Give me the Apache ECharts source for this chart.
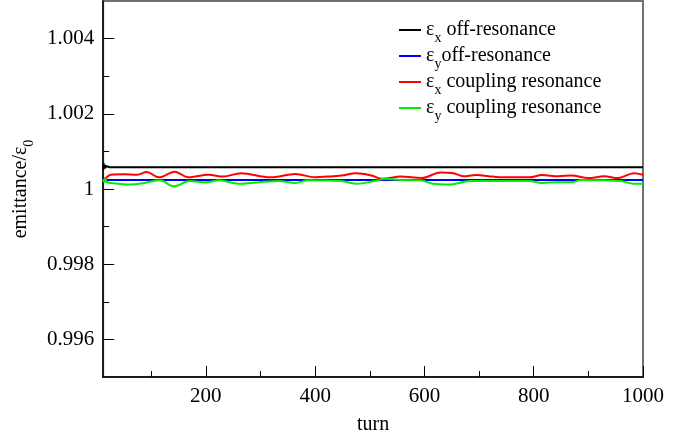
<!DOCTYPE html>
<html><head><meta charset="utf-8">
<script src="https://cdn.jsdelivr.net/npm/echarts@6/dist/echarts.min.js"></script>
<style>html,body{margin:0;padding:0;background:#fff}#c{width:693px;height:440px}</style>
</head><body><div id="c"></div>
<script>
// ---- data ----
const xMajorTicks = [200, 400, 600, 800, 1000];
const xMinorTicks = [100, 300, 500, 700, 900];
const yMajorTicks = [0.996, 0.998, 1.000, 1.002, 1.004];
const yMinorTicks = [0.997, 0.999, 1.001, 1.003];

const seriesNames = ['ex_off', 'ey_off', 'ex_coup', 'ey_coup'];
const seriesColors = ['#000000', '#0000ff', '#ff0000', '#00ee00'];

const blackTurns = [12, 13, 14, 15, 16, 17, 18, 20, 24, 1000];
const blackVals  = [1.00050, 1.00068, 1.00054, 1.00064, 1.00055, 1.00061, 1.00057, 1.00059, 1.00058, 1.00058];

const blueTurns = [12, 13, 15, 17, 20, 1000];
const blueVals  = [1.00020, 1.00030, 1.00022, 1.00026, 1.00024, 1.00024];

const redTurns = [12, 15, 20, 26, 50, 74, 92, 114, 143, 168, 205, 232, 264, 318, 364, 400, 423, 448, 475, 503, 523, 557, 595, 629, 653, 671, 694, 725, 743, 792, 815, 846, 869, 900, 929, 954, 983, 1000];
const redVals  = [1.00024, 1.00026, 1.00033, 1.00038, 1.00039, 1.00038, 1.00045, 1.00031, 1.00046, 1.00031, 1.00038, 1.00033, 1.00042, 1.00031, 1.00040, 1.00031, 1.00033, 1.00036, 1.00042, 1.00036, 1.00027, 1.00033, 1.00029, 1.00044, 1.00042, 1.00034, 1.00037, 1.00033, 1.00031, 1.00031, 1.00037, 1.00034, 1.00036, 1.00029, 1.00034, 1.00029, 1.00042, 1.00038];

const greenTurns = [12, 14, 16, 18, 26, 62, 87, 116, 141, 170, 201, 224, 260, 297, 333, 364, 387, 448, 477, 508, 530, 557, 593, 616, 647, 683, 725, 792, 815, 846, 869, 887, 929, 960, 983, 1000];
const greenVals  = [1.00026, 1.00018, 1.00027, 1.00019, 1.00016, 1.00012, 1.00016, 1.00023, 1.00007, 1.00021, 1.00018, 1.00023, 1.00014, 1.00018, 1.00021, 1.00016, 1.00023, 1.00021, 1.00014, 1.00021, 1.00027, 1.00024, 1.00023, 1.00014, 1.00012, 1.00021, 1.00021, 1.00021, 1.00016, 1.00018, 1.00018, 1.00024, 1.00023, 1.00021, 1.00014, 1.00014];

const xMin = 12, xMax = 1000, yMin = 0.995, yMax = 1.005;

// ---- chart ----
const FONT = 'Liberation Serif';
const zip = (a, b) => a.map((v, i) => [v, b[i]]);
const legendLabels = {
  ex_off: '{g|ε}{s|x}{t| off-resonance}',
  ey_off: '{g|ε}{s|y}{t|off-resonance}',
  ex_coup: '{g|ε}{s|x}{t| coupling resonance}',
  ey_coup: '{g|ε}{s|y}{t| coupling resonance}'
};
const richLegend = {
  g: {fontFamily: FONT, fontSize: 20, color: '#000', lineHeight: 26},
  t: {fontFamily: FONT, fontSize: 20, color: '#000', lineHeight: 26},
  s: {fontFamily: FONT, fontSize: 14, color: '#000', lineHeight: 12, padding: [14, 0, 0, 0], verticalAlign: 'top'}
};
const allSeries = [
  [blackTurns, blackVals], [blueTurns, blueVals], [redTurns, redVals], [greenTurns, greenVals]
].map((d, i) => ({
  name: seriesNames[i],
  type: 'line',
  xAxisIndex: 0, yAxisIndex: 0,
  data: zip(d[0], d[1]),
  showSymbol: false,
  smooth: i >= 2 ? 0.35 : false,
  lineStyle: {color: seriesColors[i], width: 2},
  itemStyle: {color: seriesColors[i]},
  z: 3 + i
}));

const chart = echarts.init(document.getElementById('c'), null, {renderer: 'canvas'});
chart.setOption({
  animation: false,
  backgroundColor: '#fff',
  grid: {left: 96, right: 50, top: 1, bottom: 57, show: true, borderColor: '#707070', borderWidth: 2, backgroundColor: 'transparent'},
  legend: {
    data: seriesNames,
    orient: 'vertical',
    left: 394, top: 12,
    icon: 'rect', itemWidth: 22, itemHeight: 2, itemGap: -2,
    formatter: n => legendLabels[n],
    textStyle: {fontFamily: FONT, fontSize: 20, color: '#000', rich: richLegend},
    selectedMode: false
  },
  xAxis: [{
    type: 'value', min: xMin, max: xMax,
    name: 'turn', nameLocation: 'middle', nameGap: 38,
    nameTextStyle: {fontFamily: FONT, fontSize: 20, color: '#000'},
    axisLine: {show: true, lineStyle: {color: '#000', width: 1.5}},
    axisTick: {show: true, inside: true, length: 11, customValues: xMajorTicks, lineStyle: {color: '#000'}},
    axisLabel: {customValues: xMajorTicks, fontFamily: FONT, fontSize: 21, color: '#000', margin: 9,
      formatter: v => String(v)},
    splitLine: {show: false}
  }, {
    type: 'value', min: xMin, max: xMax, position: 'bottom',
    axisLine: {show: false},
    axisTick: {show: true, inside: true, length: 6, customValues: xMinorTicks, lineStyle: {color: '#000'}},
    axisLabel: {show: false},
    splitLine: {show: false}
  }],
  yAxis: [{
    type: 'value', min: yMin, max: yMax,
    name: '{t|emittance/ε}{s|0}', nameLocation: 'middle', nameGap: 68, nameRotate: 90,
    nameTextStyle: {fontFamily: FONT, fontSize: 20, color: '#000', rich: {
      t: {fontFamily: FONT, fontSize: 20, color: '#000', lineHeight: 26},
      s: {fontFamily: FONT, fontSize: 14, color: '#000', lineHeight: 12, padding: [14, 0, 0, 0], verticalAlign: 'top'}
    }},
    axisLine: {show: true, lineStyle: {color: '#000', width: 1.5}},
    axisTick: {show: true, inside: true, length: 11, customValues: yMajorTicks, lineStyle: {color: '#000'}},
    axisLabel: {customValues: yMajorTicks, fontFamily: FONT, fontSize: 21, color: '#000', margin: 9,
      formatter: v => String(Math.round(v * 1000) / 1000)},
    splitLine: {show: false}
  }, {
    type: 'value', min: yMin, max: yMax, position: 'left',
    axisLine: {show: false},
    axisTick: {show: true, inside: true, length: 6, customValues: yMinorTicks, lineStyle: {color: '#000'}},
    axisLabel: {show: false},
    splitLine: {show: false}
  }],
  series: allSeries
});
</script></body></html>
